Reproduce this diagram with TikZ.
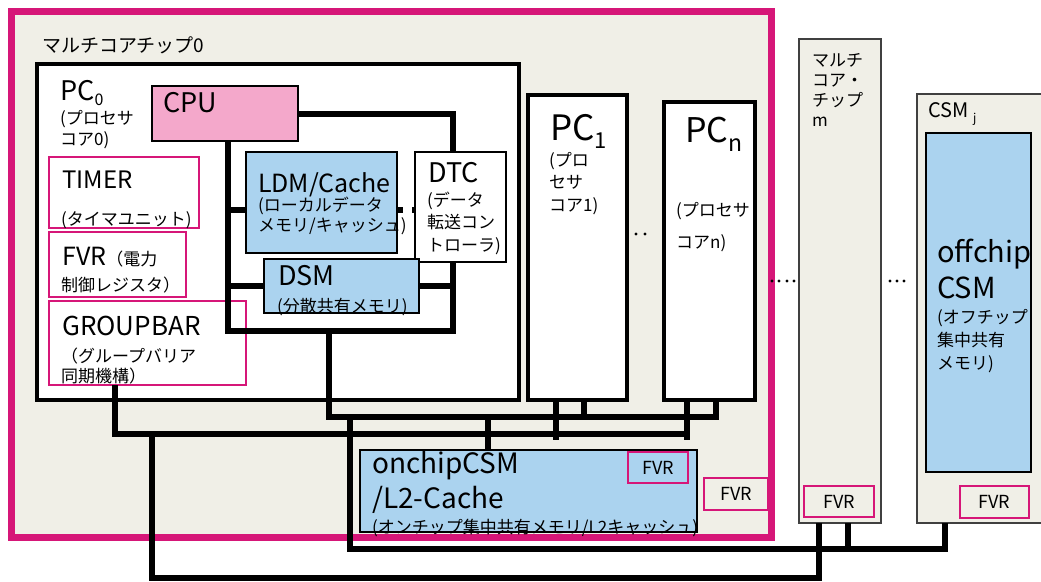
\documentclass[tikz,border=0pt]{standalone}
\usepackage{fontspec}
\setmainfont{Noto Sans CJK JP}
\usetikzlibrary{positioning,calc}
\definecolor{framered}{RGB}{214,22,120}
\definecolor{cpupink}{RGB}{244,168,203}
\definecolor{memblue}{RGB}{171,211,239}
\definecolor{chipbg}{RGB}{240,239,231}
\def\lrg{\fontsize{28}{35}\selectfont}
\def\sml{\fontsize{17}{21}\selectfont}
\tikzset{pcbox/.style={draw,line width=4pt,fill=white,anchor=north west,inner sep=0pt,outer sep=0pt}}
\tikzset{membox/.style={draw,line width=1.3pt,fill=memblue,anchor=north west,inner sep=0pt,outer sep=0pt}}
\tikzset{regbox/.style={draw=framered,line width=2pt,anchor=north west,inner sep=0pt,outer sep=0pt}}
\tikzset{chipbox/.style={draw=black!75,line width=1.3pt,fill=chipbg,anchor=north west,inner sep=0pt,outer sep=0pt}}
\tikzset{bus/.style={line width=6pt}}
\tikzset{txt/.style={anchor=base west,inner sep=0pt,align=left}}

\begin{document}
\begin{tikzpicture}[x=1pt,y=-1pt]
\useasboundingbox (0,0) rectangle (1041,581);
% multicore chip 0
\node[draw=framered,line width=7pt,fill=chipbg,anchor=north west,inner sep=0pt,outer sep=0pt,minimum width=760,minimum height=526] (chip0) at (11.5,11) {};
\node[pcbox,minimum width=482,minimum height=336] (pc0) at (37,64) {};
\node[pcbox,minimum width=99,minimum height=305] (pc1) at (528,95) {};
\node[pcbox,minimum width=91,minimum height=298] (pcn) at (664,102) {};
% chip m and CSM j
\node[chipbox,minimum width=82,minimum height=484] (chipm) at (799,39) {};
\node[chipbox,minimum width=140,minimum height=429] (csmj) at (917,94) {};

% buses
\coordinate (ilb) at (228,331);
\coordinate (irb) at (453,331);
\coordinate (ldmj) at (228,210);
\coordinate (b1a) at (329,417);
\coordinate (b1b) at (584,417);
\coordinate (b1c) at (716,417);
\coordinate (b1d) at (488,417);
\coordinate (b2a) at (115,434);
\coordinate (b2b) at (556,434);
\coordinate (b2c) at (687,434);
\coordinate (b3a) at (152,578);
\coordinate (b3b) at (819,578);
\coordinate (b4a) at (350,549);
\coordinate (b4b) at (945,549);
\coordinate (b4c) at (848,549);

\node[draw,line width=1.3pt,fill=cpupink,anchor=north west,inner sep=0pt,outer sep=0pt,minimum width=146,minimum height=55] (cpu) at (152,86) {};
\node[draw,line width=1.3pt,fill=white,anchor=north west,inner sep=0pt,outer sep=0pt,minimum width=91,minimum height=110] (dtc) at (415,152) {};
\node[membox,minimum width=151,minimum height=101] (ldm) at (246,152) {};
\node[membox,minimum width=155,minimum height=54] (dsm) at (264,259) {};
\node[membox,minimum width=337,minimum height=82] (onchip) at (360,450) {};
\node[membox,minimum width=105,minimum height=339] (offchip) at (926,133) {};

% registers
\node[regbox,minimum width=150,minimum height=71] (timer) at (49,157) {};
\node[regbox,minimum width=137,minimum height=65] (fvrp) at (49,232) {};
\node[regbox,minimum width=197,minimum height=84] (grp) at (49,301) {};

\draw[bus] (cpu.east) -| ([xshift=-7.5pt]dtc.north);
\draw[bus] ([xshift=-7.5pt]dtc.south) -- (irb) -- (ilb) -- (cpu.south -| ilb);
\draw[bus] (ldmj) -- (ldmj -| ldm.west);
\draw[line width=6pt,dash pattern=on 6pt off 9pt] (ldmj -| ldm.east) -- (ldmj -| dtc.west);
\draw[bus] (dsm.west -| ilb) -- (dsm.west);
\draw[bus] (dsm.east) -- (dsm.east -| irb);

\draw[bus] (ilb -| b1a) -- (b1a) -- (b1c) -- (b1c |- pcn.south);
\draw[bus] (pc1.south -| b1b) -- (b1b);
\draw[bus] (b1d) -- (b1d |- onchip.north);
\draw[bus] (grp.south -| b2a) -- (b2a) -- (b2c) -- (b2c |- pcn.south);
\draw[bus] (pc1.south -| b2b) -- ([yshift=-6pt]b2b);
\draw[bus] (b2c) -- ([yshift=-6pt]b2c);
\draw[bus] (b2a -| b3a) -- (b3a) -- (b3b) -- (b3b |- chipm.south);
\draw[bus] (b1a -| b4a) -- (b4a) -- (b4b) -- (b4b |- csmj.south);
\draw[bus] (b4c) -- (b4c |- chipm.south);

\node[regbox,minimum width=60,minimum height=31,font=\fontsize{18}{18}\selectfont] (fvrl2) at (628,452) {FVR};
\node[regbox,minimum width=64,minimum height=32,font=\fontsize{18}{18}\selectfont] (fvr0) at (704,478) {FVR};
\node[regbox,minimum width=70,minimum height=31,font=\fontsize{18}{18}\selectfont] (fvrm) at (804,486) {FVR};
\node[regbox,minimum width=69,minimum height=32,font=\fontsize{18}{18}\selectfont] (fvrj) at (960,486) {FVR};

% labels
\node[txt,font=\fontsize{19}{19}\selectfont] (chip0lbl) at (42,52) {マルチコアチップ0};
\node[txt,font=\fontsize{27}{27}\selectfont] (pc0lbl) at (60,100) {PC\raisebox{-5pt}{\fontsize{16}{16}\selectfont 0}};
\node[txt,font=\sml] (pc0desc) at (60,145) {(プロセサ\\コア0)};
\node[txt,font=\fontsize{27}{27}\selectfont] (cpulbl) at (163,112) {CPU};
\node[txt,font=\fontsize{24}{24}\selectfont] (timerlbl) at (62,188) {TIMER};
\node[txt,font=\sml] (timerdesc) at (61,225) {(タイマユニット)};
\node[txt,font=\fontsize{25}{25}\selectfont] (fvrplbl) at (62,265) {FVR{\sml（電力}};
\node[txt,font=\sml] (fvrpdesc) at (61,291) {制御レジスタ）};
\node[txt,font=\fontsize{26}{26}\selectfont] (grplbl) at (62,335) {GROUPBAR};
\node[txt,font=\fontsize{17}{20}\selectfont] (grpdesc) at (61,382) {（グループバリア\\同期機構）};
\node[txt,font=\fontsize{25}{25}\selectfont] (ldmlbl) at (258,192) {LDM/Cache};
\node[txt,font=\fontsize{17}{20}\selectfont] (ldmdesc) at (258,231) {(ローカルデータ\\メモリ/キャッシュ)};
\node[txt,font=\fontsize{27}{27}\selectfont] (dtclbl) at (428,182) {DTC};
\node[txt,font=\fontsize{17}{22.5}\selectfont] (dtcdesc) at (427,251) {(データ\\転送コン\\トローラ)};
\node[txt,font=\fontsize{27}{27}\selectfont] (dsmlbl) at (278,285) {DSM};
\node[txt,font=\sml] (dsmdesc) at (277,312) {(分散共有メモリ)};
\node[txt,font=\fontsize{35}{35}\selectfont] (pc1lbl) at (550,140) {PC\raisebox{-8pt}{\fontsize{22}{22}\selectfont 1}};
\node[txt,font=\fontsize{17}{22.5}\selectfont] (pc1desc) at (549,211) {(プロ\\セサ\\コア1)};
\node[txt,font=\fontsize{34}{34}\selectfont] (pcnlbl) at (685,142) {PC\raisebox{-9pt}{\fontsize{23}{23}\selectfont n}};
\node[txt,font=\fontsize{17}{32}\selectfont] (pcndesc) at (676,248) {(プロセサ\\コアn)};
\node[txt,font=\lrg] (onchiplbl) at (372,508) {onchipCSM\\/L2-Cache};
\node[txt,font=\sml] (onchipdesc) at (372,533) {(オンチップ集中共有メモリ/L2キャッシュ)};
\node[txt,font=\fontsize{17}{20}\selectfont] (chipmlbl) at (812,126) {マルチ\\コア・\\チップ\\m};
\node[txt,font=\fontsize{20}{20}\selectfont] (csmjlbl) at (928,117) {CSM \raisebox{-5pt}{\fontsize{12}{12}\selectfont j}};
\node[txt,font=\fontsize{29}{36}\selectfont] (offlbl) at (937,298) {offchip\\CSM};
\node[txt,font=\fontsize{17}{23}\selectfont] (offdesc) at (937,369) {(オフチップ\\集中共有\\メモリ)};

% dots
\foreach \x in {636,645} \fill (\x,234) circle (1.6pt);
\foreach \x in {772,779,787,794} \fill (\x,281) circle (1.6pt);
\foreach \x in {890,897,904} \fill (\x,281) circle (1.6pt);
\end{tikzpicture}
\end{document}
